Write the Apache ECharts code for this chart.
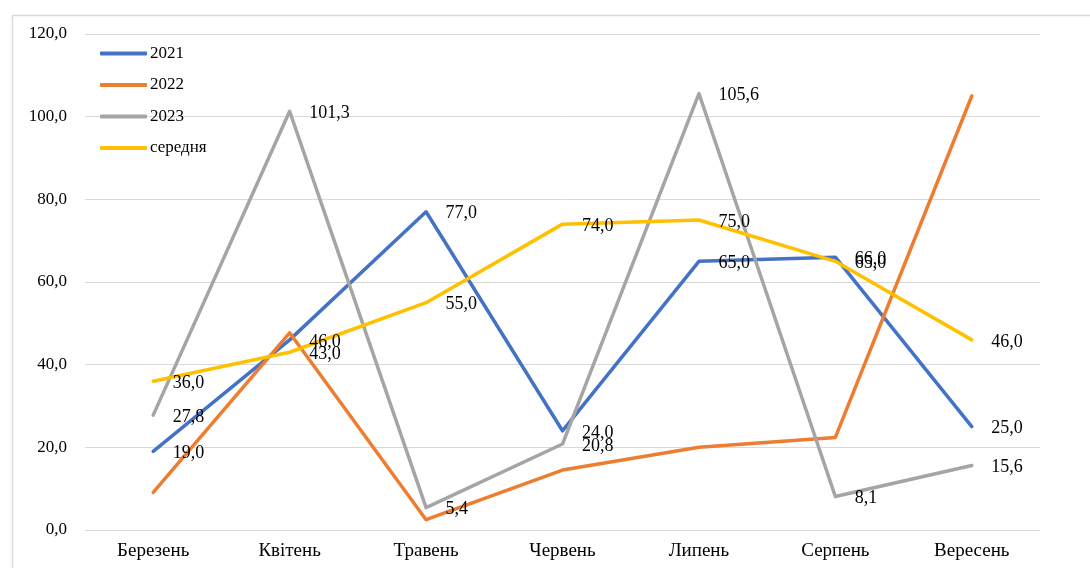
<!DOCTYPE html>
<html>
<head>
<meta charset="utf-8">
<script src="https://cdn.jsdelivr.net/npm/echarts@6/dist/echarts.min.js"></script>
<style>
  html, body { margin: 0; padding: 0; background: #fff; }
  #chart { width: 1090px; height: 568px; }
</style>
</head>
<body>
<div id="chart"></div>
<script>
// Months (March to September)
const categories = ['Березень', 'Квітень', 'Травень', 'Червень', 'Липень', 'Серпень', 'Вересень'];

// Values per year and the average
const values2021 = [19.0, 46.0, 77.0, 24.0, 65.0, 66.0, 25.0];
const values2022 = [9.1, 47.7, 2.5, 14.5, 20.0, 22.4, 105.0];
const values2023 = [27.8, 101.3, 5.4, 20.8, 105.6, 8.1, 15.6];
const valuesAvg  = [36.0, 43.0, 55.0, 74.0, 75.0, 65.0, 46.0];

const seriesNames = ['2021', '2022', '2023', 'середня'];

// Value axis range
const yMin = 0, yMax = 120, yStep = 20;

const FONT = '"Liberation Serif", "Times New Roman", serif';
const fmt = v => Number(v).toFixed(1).replace('.', ',');

const chart = echarts.init(document.getElementById('chart'), null, { renderer: 'canvas' });

function lineSeries(name, data, color, withLabels) {
  return {
    name: name,
    type: 'line',
    data: data,
    symbol: 'circle',
    symbolSize: 1,
    showSymbol: true,
    itemStyle: { color: color },
    lineStyle: { color: color, width: 3.5, cap: 'round', join: 'round' },
    emphasis: { disabled: true },
    label: {
      show: withLabels,
      position: 'right',
      distance: 19,
      offset: [0, 2],
      color: '#000',
      fontFamily: FONT,
      fontSize: 18,
      formatter: p => fmt(p.value)
    }
  };
}

chart.setOption({
  animation: false,
  backgroundColor: '#fff',
  textStyle: { fontFamily: FONT },
  graphic: [{
    type: 'rect',
    left: 10, top: 13,
    shape: { width: 1100, height: 600 },
    style: { fill: 'none', stroke: '#d9d9d9', lineWidth: 1.5 },
    silent: true
  }],
  grid: { left: 85, right: 50, top: 34, bottom: 38, containLabel: false },
  legend: {
    data: seriesNames,
    orient: 'vertical',
    left: 100,
    top: 45,
    padding: 0,
    itemWidth: 47,
    itemHeight: 4,
    itemGap: 14.5,
    icon: 'roundRect',
    textStyle: { fontFamily: FONT, fontSize: 17, color: '#000', padding: [0, 0, 0, -2] }
  },
  xAxis: {
    type: 'category',
    data: categories,
    boundaryGap: true,
    axisLine: { show: false },
    axisTick: { show: false },
    axisLabel: { color: '#000', fontFamily: FONT, fontSize: 19, margin: 12 },
    splitLine: { show: false }
  },
  yAxis: {
    type: 'value',
    min: yMin, max: yMax, interval: yStep,
    axisLine: { show: false },
    axisTick: { show: false },
    axisLabel: { color: '#000', fontFamily: FONT, fontSize: 17, margin: 18, formatter: v => fmt(v) },
    splitLine: { lineStyle: { color: '#d9d9d9', width: 1 } }
  },
  series: [
    lineSeries(seriesNames[0], values2021, '#4472C4', true),
    lineSeries(seriesNames[1], values2022, '#ED7D31', false),
    lineSeries(seriesNames[2], values2023, '#A5A5A5', true),
    lineSeries(seriesNames[3], valuesAvg, '#FFC000', true)
  ]
});
</script>
</body>
</html>
